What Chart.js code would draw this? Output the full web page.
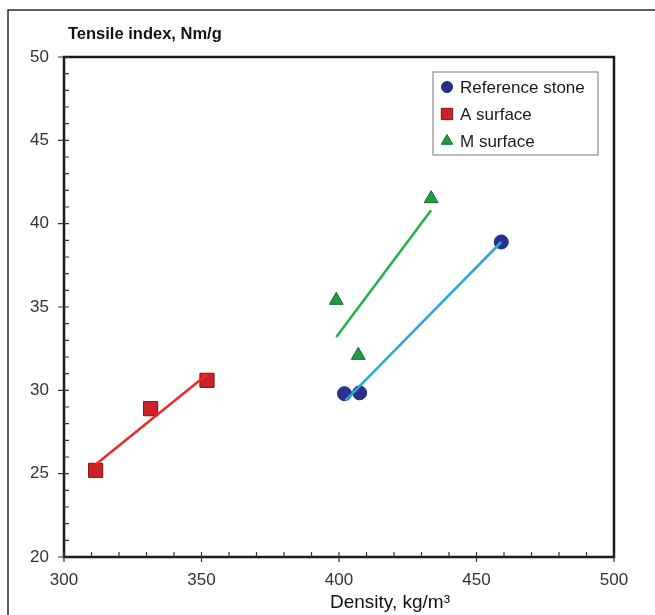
<!DOCTYPE html>
<html>
<head>
<meta charset="utf-8">
<script src="https://cdn.jsdelivr.net/npm/chart.js@4.4.1/dist/chart.umd.min.js"></script>
<style>
  html, body { margin: 0; padding: 0; background: #fff; }
  #wrap { position: relative; width: 655px; height: 615px; }
</style>
</head>
<body>
<div id="wrap"><canvas id="chart" width="655" height="615"></canvas></div>
<script>
// Tensile index vs density for three stone surfaces

// Measured points
var refDensity = [402, 407.5, 459];
var refTensile = [29.8, 29.85, 38.9];
var aDensity = [311.5, 331.5, 352];
var aTensile = [25.2, 28.9, 30.6];
var mDensity = [399, 407, 433.5];
var mTensile = [35.4, 32.1, 41.5];

// Linear trend lines (end points)
var refFitDensity = [402.4, 459];
var refFitTensile = [29.4, 38.9];
var aFitDensity = [311.5, 352];
var aFitTensile = [25.55, 30.95];
var mFitDensity = [399, 433.5];
var mFitTensile = [33.2, 40.8];

// Axis ticks
var xTicks = [300, 350, 400, 450, 500];
var yTicks = [20, 25, 30, 35, 40, 45, 50];

var FONT = "'Liberation Sans', Arial, sans-serif";

function pts(xs, ys) {
    return xs.map(function (x, i) { return { x: x, y: ys[i] }; });
}

var SERIES = [
    { label: "Reference stone", data: pts(refDensity, refTensile), style: "circle",
      fill: "#2b2f8e", stroke: "#22266f", radius: 7, legendRadius: 5.5 },
    { label: "A surface", data: pts(aDensity, aTensile), style: "rect",
      fill: "#cc2229", stroke: "#7d1114", radius: 10, legendRadius: 8 },
    { label: "M surface", data: pts(mDensity, mTensile), style: "triangle",
      fill: "#1f9a45", stroke: "#146b2e", radius: 8, legendRadius: 6.5 }
];

var FITS = [
    { data: pts(refFitDensity, refFitTensile), color: "#2aa7e0" },
    { data: pts(aFitDensity, aFitTensile), color: "#ee2a24" },
    { data: pts(mFitDensity, mFitTensile), color: "#22b04b" }
];

var datasets = [];
SERIES.forEach(function (s) {
    datasets.push({
        label: s.label,
        data: s.data,
        showLine: false,
        pointStyle: s.style,
        pointRadius: s.radius,
        pointBackgroundColor: s.fill,
        pointBorderColor: s.stroke,
        pointBorderWidth: 1,
        order: 2
    });
});
FITS.forEach(function (f) {
    datasets.push({
        label: "",
        data: f.data,
        showLine: true,
        borderColor: f.color,
        borderWidth: 2.5,
        pointRadius: 0,
        fill: false,
        order: 1
    });
});

// ── Frame, plot box, ticks, axis titles and legend ──
var decorations = {
    id: "decorations",
    beforeDraw: function (chart) {
        var ctx = chart.ctx;
        ctx.save();
        ctx.strokeStyle = "#2a2a2a";
        ctx.lineWidth = 1.5;
        ctx.beginPath();
        ctx.moveTo(8, 615);
        ctx.lineTo(8, 10);
        ctx.lineTo(655, 10);
        ctx.stroke();
        ctx.restore();
    },
    afterDraw: function (chart) {
        var ctx = chart.ctx;
        var a = chart.chartArea;
        var xs = chart.scales.x, ys = chart.scales.y;
        ctx.save();

        // plot box
        ctx.strokeStyle = "#1a1a1a";
        ctx.lineWidth = 2.5;
        ctx.strokeRect(a.left, a.top, a.right - a.left, a.bottom - a.top);

        // minor ticks point inward, major ticks cross the axis
        ctx.lineWidth = 1.2;
        ctx.strokeStyle = "#333";
        ctx.beginPath();
        var v, p;
        for (v = 300; v <= 500; v += 10) {
            p = xs.getPixelForValue(v);
            var major = v % 50 === 0;
            ctx.moveTo(p, a.bottom + (major ? 5 : 0));
            ctx.lineTo(p, a.bottom - 5);
        }
        for (v = 20; v <= 50; v += 1) {
            p = ys.getPixelForValue(v);
            var majorY = v % 5 === 0;
            ctx.moveTo(a.left - (majorY ? 6 : 0), p);
            ctx.lineTo(a.left + 5, p);
        }
        ctx.stroke();

        // axis titles
        ctx.fillStyle = "#111";
        ctx.font = "bold 16.5px " + FONT;
        ctx.textBaseline = "middle";
        ctx.textAlign = "left";
        ctx.fillText("Tensile index, Nm/g", a.left + 4, 34);

        ctx.font = "19px " + FONT;
        ctx.textAlign = "center";
        ctx.fillText("Density, kg/m\u00b3", 390, 603);

        // legend box
        var lx = 433, ly = 72, lw = 165, lh = 83;
        ctx.fillStyle = "#fff";
        ctx.fillRect(lx, ly, lw, lh);
        ctx.strokeStyle = "#8c8c8c";
        ctx.lineWidth = 1.2;
        ctx.strokeRect(lx, ly, lw, lh);
        ctx.font = "17px " + FONT;
        ctx.textAlign = "left";
        SERIES.forEach(function (s, i) {
            var cy = ly + 15 + i * 27;
            ctx.fillStyle = s.fill;
            ctx.strokeStyle = s.stroke;
            ctx.lineWidth = 1;
            Chart.helpers.drawPoint(ctx, { pointStyle: s.style, radius: s.legendRadius, borderWidth: 1 }, lx + 14, cy);
            ctx.fillStyle = "#1a1a1a";
            ctx.fillText(s.label, lx + 27, cy + 1);
        });
        ctx.restore();
    }
};

new Chart(document.getElementById("chart"), {
    type: "scatter",
    data: { datasets: datasets },
    plugins: [decorations],
    options: {
        responsive: false,
        animation: false,
        layout: { padding: { top: 57, right: 41, left: 0, bottom: 0 } },
        plugins: {
            legend: { display: false },
            tooltip: { enabled: false }
        },
        scales: {
            x: {
                type: "linear",
                min: 300,
                max: 500,
                afterBuildTicks: function (s) {
                    s.ticks = xTicks.map(function (t) { return { value: t }; });
                },
                afterFit: function (s) { s.height = 58; },
                grid: { display: false },
                border: { display: false },
                ticks: { color: "#333", padding: 5, font: { family: FONT, size: 17 } }
            },
            y: {
                type: "linear",
                min: 20,
                max: 50,
                afterBuildTicks: function (s) {
                    s.ticks = yTicks.map(function (t) { return { value: t }; });
                },
                afterFit: function (s) { s.width = 64; },
                grid: { display: false },
                border: { display: false },
                ticks: { color: "#333", padding: 7, font: { family: FONT, size: 17 } }
            }
        }
    }
});
</script>
</body>
</html>
